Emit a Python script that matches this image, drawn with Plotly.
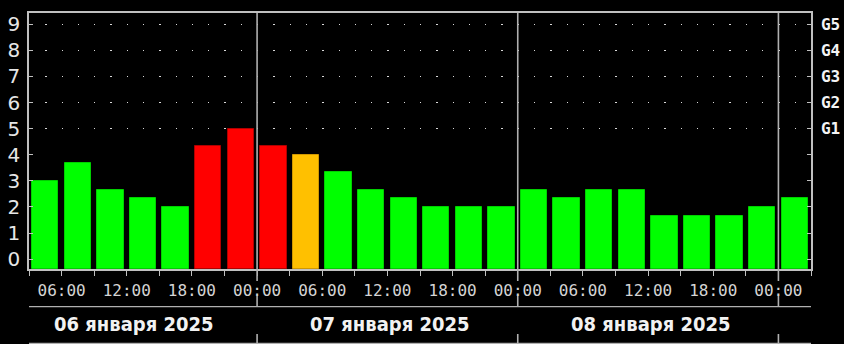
import pandas as pd
import plotly.graph_objects as go

# ---------------- data ----------------
interval_start = [
    "2025-01-06 03:00", "2025-01-06 06:00", "2025-01-06 09:00", "2025-01-06 12:00",
    "2025-01-06 15:00", "2025-01-06 18:00", "2025-01-06 21:00",
    "2025-01-07 00:00", "2025-01-07 03:00", "2025-01-07 06:00", "2025-01-07 09:00",
    "2025-01-07 12:00", "2025-01-07 15:00", "2025-01-07 18:00", "2025-01-07 21:00",
    "2025-01-08 00:00", "2025-01-08 03:00", "2025-01-08 06:00", "2025-01-08 09:00",
    "2025-01-08 12:00", "2025-01-08 15:00", "2025-01-08 18:00", "2025-01-08 21:00",
    "2025-01-09 00:00",
]
kp_index = [
    3.00, 3.67, 2.67, 2.33, 2.00, 4.33, 5.00,
    4.33, 4.00, 3.33, 2.67, 2.33, 2.00, 2.00, 2.00,
    2.67, 2.33, 2.67, 2.67, 1.67, 1.67, 1.67, 2.00,
    2.33,
]
day_boundaries = ["2025-01-07 00:00", "2025-01-08 00:00", "2025-01-09 00:00"]
day_labels = ["06 января 2025", "07 января 2025", "08 января 2025"]
day_label_pos = ["2025-01-06 12:40", "2025-01-07 12:15", "2025-01-08 12:15"]
kp_ticks = [0, 1, 2, 3, 4, 5, 6, 7, 8, 9]
storm_levels = [5, 6, 7, 8, 9]
storm_labels = ["G1", "G2", "G3", "G4", "G5"]

X_START = pd.Timestamp("2025-01-06 03:00")
X_END = pd.Timestamp("2025-01-09 03:00")
Y_MIN, Y_MAX = -0.375, 9.43

# ---------------- geometry / style ----------------
W, H = 844, 344
ML, MR, MT, MB = 29, 33, 13, 75
PLOT_H = H - MT - MB
LINE_C = "#c0c0c0"
DAYLINE_C = "#b0b0b0"


def py(pixel_y):
    """pixel row -> paper y"""
    return (H - MB - pixel_y) / PLOT_H


def px_frac(ts):
    ts = pd.Timestamp(ts)
    return (ts - X_START) / (X_END - X_START)


starts = pd.to_datetime(interval_start)
centers = starts + pd.Timedelta(hours=1.5)
bar_width_ms = 0.81 * 3 * 3600 * 1000

fills, edges = [], []
for v in kp_index:
    if v < 3.9:
        fills.append("#00ff00"); edges.append("#00d000")
    elif v < 4.2:
        fills.append("#ffc000"); edges.append("#d09800")
    else:
        fills.append("#ff0000"); edges.append("#b00000")

fig = go.Figure()
fig.add_trace(go.Bar(
    x=centers, y=[v - Y_MIN for v in kp_index], base=Y_MIN,
    width=bar_width_ms,
    marker=dict(color=fills, line=dict(color=edges, width=1)),
    hoverinfo="skip", showlegend=False,
))
fig.add_trace(go.Scatter(
    x=[X_START], y=[None], yaxis="y2", mode="markers",
    marker=dict(opacity=0), hoverinfo="skip", showlegend=False,
))

tickvals = pd.date_range(X_START, X_END, freq="3h")
ticktext = [t.strftime("%H:%M") if t.hour % 6 == 0 else "" for t in tickvals]

shapes = []
for b in day_boundaries:
    xf = px_frac(b)
    for y0, y1 in [(1.0, py(281)), (py(296), py(306.7)), (py(334), py(345))]:
        shapes.append(dict(type="line", xref="paper", yref="paper",
                           x0=xf, x1=xf, y0=y0, y1=y1,
                           line=dict(color=DAYLINE_C, width=1.6)))
for yy in [306.7, 343.5]:
    shapes.append(dict(type="line", xref="paper", yref="paper",
                       x0=0, x1=1, y0=py(yy), y1=py(yy),
                       line=dict(color=DAYLINE_C, width=1.3)))

annotations = []
for lbl, pos in zip(day_labels, day_label_pos):
    annotations.append(dict(
        x=pos, y=py(323.5), xref="x", yref="paper",
        text=lbl, showarrow=False, xanchor="center", yanchor="middle",
        font=dict(family="DejaVu Sans Condensed, DejaVu Sans", size=20,
                  color="#f2f2f2", weight="bold"),
    ))

fig.update_layout(
    width=W, height=H,
    margin=dict(l=ML, r=MR, t=MT, b=MB, pad=0, autoexpand=False),
    paper_bgcolor="black", plot_bgcolor="black",
    showlegend=False,
    xaxis=dict(
        type="date", range=[X_START, X_END], automargin=False,
        tickmode="array", tickvals=tickvals, ticktext=ticktext,
        ticks="outside", ticklen=5, tickwidth=1, tickcolor=LINE_C,
        showline=True, linecolor=LINE_C, linewidth=1.5, mirror=True,
        showgrid=False, zeroline=False,
        tickfont=dict(family="DejaVu Sans Mono", size=16, color="#d4d4d4"),
        ticklabelstandoff=1,
    ),
    yaxis=dict(
        range=[Y_MIN, Y_MAX], automargin=False,
        tickmode="array", tickvals=kp_ticks,
        ticktext=[str(k) for k in kp_ticks],
        ticks="inside", ticklen=4, tickwidth=1, tickcolor=LINE_C,
        showline=True, linecolor=LINE_C, linewidth=1.5,
        showgrid=False, zeroline=False,
        tickfont=dict(family="DejaVu Sans", size=20, color="#e6e6e6"),
        ticklabelstandoff=3,
    ),
    yaxis2=dict(
        overlaying="y", side="right", automargin=False,
        range=[Y_MIN, Y_MAX],
        tickmode="array", tickvals=storm_levels, ticktext=storm_labels,
        ticks="inside", ticklen=4, tickwidth=1, tickcolor=LINE_C,
        showline=True, linecolor=LINE_C, linewidth=1.5,
        showgrid=True, gridcolor="#d8d8d8", gridwidth=1.3,
        griddash="1.3px,14.99px",
        zeroline=False,
        minor=dict(tickmode="array", tickvals=[0, 1, 2, 3, 4],
                   ticks="inside", ticklen=4, tickcolor=LINE_C, showgrid=False),
        tickfont=dict(family="DejaVu Sans Mono", size=16, color="#f4f4f4",
                      weight="bold"),
        ticklabelstandoff=5,
    ),
    shapes=shapes,
    annotations=annotations,
    bargap=0,
)

fig.write_html("out.html")
